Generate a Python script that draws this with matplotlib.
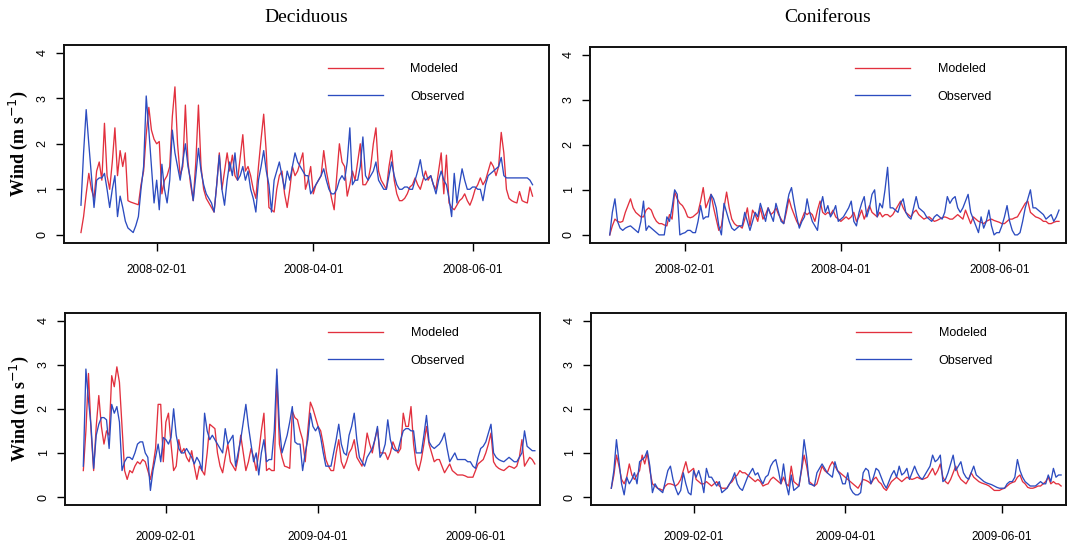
import matplotlib
matplotlib.use("Agg")
import matplotlib.pyplot as plt
import matplotlib.dates as mdates
import pandas as pd

# ---------------- data ----------------
start_2008 = "2008-01-03"
start_2009 = "2008-12-31"
tick_dates_2008 = ["2008-02-01", "2008-04-01", "2008-06-01"]
tick_dates_2009 = ["2009-02-01", "2009-04-01", "2009-06-01"]
panel_titles = ["Deciduous", "Coniferous"]
series_labels = ["Modeled", "Observed"]
y_ticks = [0, 1, 2, 3, 4]

dec08_modeled = [
    0.05, 0.4, 0.9, 1.35, 1.0, 0.8, 1.4, 1.6, 1.2, 2.45, 1.3, 1.0, 1.6, 2.35, 1.3, 1.85, 1.5, 1.8, 0.75, 0.72,
    0.7, 0.68, 0.66, 1.1, 1.4, 2.2, 2.8, 2.3, 2.1, 2.0, 2.05, 0.9, 1.2, 1.3, 1.5, 2.6, 3.25, 2.0, 1.3, 1.5,
    2.85, 1.6, 1.1, 0.75, 1.6, 2.85, 1.5, 1.0, 0.8, 0.7, 0.6, 0.5, 1.1, 1.8, 1.0, 1.4, 1.8, 1.4, 1.75, 1.3,
    1.2, 1.7, 2.2, 1.4, 1.5, 1.3, 1.0, 0.8, 1.5, 2.1, 2.65, 1.8, 0.6, 0.55, 0.5, 1.0, 1.3, 1.4, 0.9, 0.6,
    1.0, 1.5, 1.3, 1.4, 1.6, 1.8, 1.0, 1.2, 1.5, 0.9, 1.1, 1.2, 1.3, 1.85, 1.4, 1.1, 0.8, 0.55, 1.3, 2.0,
    1.6, 1.5, 0.85, 1.1, 1.4, 1.2, 1.6, 2.0, 1.1, 1.1, 1.2, 1.5, 2.0, 2.35, 1.4, 1.2, 1.1, 1.0, 1.5, 1.85,
    1.2, 0.9, 0.75, 0.75, 0.8, 0.9, 1.05, 1.1, 1.25, 1.1, 1.0, 1.2, 1.4, 1.2, 1.3, 1.1, 1.0, 1.4, 1.8, 0.9,
    1.75, 0.7, 0.6, 0.55, 0.65, 0.75, 0.8, 0.9, 0.75, 0.65, 0.8, 1.0, 1.1, 1.25, 1.1, 1.2, 1.4, 1.6, 1.5, 1.3,
    1.5, 2.25, 1.8, 1.0, 0.8, 0.75, 0.72, 0.7, 0.95, 0.75, 0.72, 0.7, 1.05, 0.85,
]
dec08_observed = [
    0.65, 1.8, 2.75, 2.0, 1.3, 0.6, 1.2, 1.25, 1.25, 1.35, 1.0, 0.6, 1.0, 1.3, 0.4, 0.85, 0.6, 0.3, 0.15, 0.1,
    0.05, 0.2, 0.4, 1.0, 1.5, 3.05, 2.3, 1.5, 0.7, 1.2, 0.55, 1.55, 1.0, 0.7, 1.2, 2.3, 1.8, 1.5, 1.2, 1.6,
    2.0, 1.5, 1.2, 0.75, 1.3, 1.9, 1.4, 1.1, 0.9, 0.8, 0.7, 0.5, 1.1, 1.75, 1.0, 0.65, 1.2, 1.6, 1.3, 1.8,
    1.2, 1.3, 1.5, 1.2, 1.4, 1.0, 0.8, 0.5, 1.2, 1.5, 1.85, 1.4, 1.1, 0.5, 1.2, 1.4, 1.6, 1.3, 1.0, 1.4,
    1.2, 1.5, 1.8, 1.6, 1.5, 1.4, 1.3, 1.3, 0.9, 1.0, 1.1, 1.2, 1.3, 1.45, 1.2, 1.0, 0.9, 0.9, 1.0, 1.2,
    1.3, 1.2, 1.6, 2.35, 1.1, 1.2, 1.2, 1.5, 2.15, 1.3, 1.2, 1.3, 1.4, 1.6, 1.2, 1.1, 1.0, 1.0, 1.3, 1.6,
    1.3, 1.1, 1.0, 1.0, 1.05, 1.05, 1.0, 1.0, 1.2, 1.4, 1.65, 1.3, 1.2, 1.25, 1.3, 1.1, 0.9, 1.2, 1.4, 1.2,
    1.1, 0.8, 0.4, 1.35, 0.7, 1.1, 1.45, 1.2, 1.0, 1.0, 1.05, 1.05, 1.0, 1.0, 0.75, 1.1, 1.3, 1.35, 1.4, 1.45,
    1.5, 1.7, 1.3, 1.25, 1.25, 1.25, 1.25, 1.25, 1.25, 1.25, 1.25, 1.25, 1.2, 1.1,
]
con08_modeled = [
    0.0, 0.2, 0.35, 0.3, 0.28, 0.3, 0.5, 0.65, 0.8, 0.6, 0.5, 0.45, 0.4, 0.4, 0.55, 0.6, 0.55, 0.4, 0.3, 0.25,
    0.25, 0.22, 0.2, 0.45, 0.35, 0.95, 0.8, 0.7, 0.65, 0.55, 0.4, 0.38, 0.4, 0.45, 0.5, 0.75, 1.05, 0.6, 0.75, 0.9,
    0.6, 0.35, 0.1, 0.2, 0.6, 0.95, 0.6, 0.35, 0.25, 0.2, 0.2, 0.15, 0.35, 0.6, 0.2, 0.55, 0.45, 0.3, 0.6, 0.35,
    0.45, 0.6, 0.45, 0.5, 0.6, 0.45, 0.35, 0.25, 0.5, 0.8, 0.6, 0.45, 0.3, 0.2, 0.35, 0.5, 0.45, 0.5, 0.45, 0.3,
    0.55, 0.75, 0.5, 0.45, 0.5, 0.45, 0.55, 0.4, 0.35, 0.3, 0.35, 0.4, 0.35, 0.4, 0.5, 0.3, 0.4, 0.55, 0.35, 0.5,
    0.65, 0.5, 0.45, 0.4, 0.5, 0.4, 0.45, 0.45, 0.4, 0.45, 0.55, 0.65, 0.75, 0.6, 0.5, 0.45, 0.4, 0.5, 0.55, 0.45,
    0.4, 0.35, 0.38, 0.4, 0.35, 0.3, 0.32, 0.35, 0.38, 0.4, 0.38, 0.35, 0.35, 0.4, 0.45, 0.4, 0.35, 0.55, 0.4, 0.25,
    0.4, 0.35, 0.3, 0.28, 0.25, 0.3, 0.33, 0.35, 0.32, 0.3, 0.28, 0.25, 0.25, 0.3, 0.35, 0.35, 0.38, 0.4, 0.5, 0.6,
    0.7, 0.75, 0.5, 0.45, 0.4, 0.38, 0.35, 0.3, 0.3, 0.25, 0.25, 0.28, 0.3, 0.3,
]
con08_observed = [
    0.0, 0.5, 0.8, 0.3, 0.15, 0.1, 0.15, 0.18, 0.2, 0.15, 0.1, 0.05, 0.3, 0.75, 0.1, 0.2, 0.15, 0.1, 0.05, 0.0,
    0.0, 0.0, 0.4, 0.3, 0.6, 1.0, 0.9, 0.0, 0.03, 0.05, 0.1, 0.1, 0.05, 0.05, 0.3, 0.65, 0.35, 0.4, 0.4, 0.9,
    0.8, 0.6, 0.2, 0.0, 0.7, 0.5, 0.3, 0.15, 0.1, 0.15, 0.2, 0.2, 0.5, 0.3, 0.1, 0.3, 0.5, 0.4, 0.7, 0.5,
    0.3, 0.6, 0.45, 0.3, 0.7, 0.5, 0.3, 0.25, 0.6, 0.9, 1.05, 0.7, 0.4, 0.15, 0.3, 0.4, 0.8, 0.5, 0.3, 0.2,
    0.1, 0.6, 0.85, 0.5, 0.65, 0.4, 0.5, 0.65, 0.3, 0.35, 0.4, 0.5, 0.6, 0.75, 0.3, 0.2, 0.5, 0.7, 0.85, 0.4,
    0.6, 0.9, 1.0, 0.4, 0.7, 0.6, 1.0, 1.5, 0.6, 0.6, 0.55, 0.5, 0.7, 0.8, 0.5, 0.4, 0.35, 0.6, 0.85, 0.6,
    0.55, 0.5, 0.4, 0.35, 0.3, 0.4, 0.45, 0.4, 0.35, 0.5, 0.85, 0.7, 0.8, 0.85, 0.6, 0.5, 0.6, 0.75, 0.9, 0.5,
    0.35, 0.2, 0.05, 0.4, 0.15, 0.3, 0.55, 0.2, 0.0, 0.05, 0.05, 0.2, 0.4, 0.65, 0.3, 0.1, 0.0, 0.0, 0.05, 0.3,
    0.6, 0.8, 1.0, 0.6, 0.6, 0.55, 0.5, 0.45, 0.35, 0.4, 0.45, 0.3, 0.4, 0.55,
]
dec09_modeled = [
    0.6, 1.5, 2.8, 1.5, 0.6, 1.6, 2.3, 1.6, 1.2, 1.5, 1.4, 2.75, 2.5, 2.95, 2.6, 1.6, 0.6, 0.4, 0.6, 0.55,
    0.7, 0.8, 0.75, 0.85, 0.8, 0.6, 0.4, 0.7, 1.1, 2.1, 2.1, 0.8, 1.7, 1.9, 1.2, 0.6, 0.7, 1.3, 1.0, 1.1,
    0.9, 0.8, 1.05, 0.7, 0.4, 0.7, 0.6, 0.5, 1.0, 1.65, 1.6, 1.55, 1.0, 0.7, 0.55, 0.9, 1.2, 0.8, 0.7, 0.6,
    0.9, 1.4, 1.0, 0.6, 0.8, 1.1, 0.9, 0.6, 1.0, 1.5, 1.9, 0.6, 0.65, 0.6, 0.6, 2.75, 1.2, 0.9, 0.7, 0.68,
    0.65, 1.95, 1.8, 1.75, 1.5, 1.3, 0.8, 1.5, 2.15, 2.0, 1.8, 1.6, 1.5, 1.2, 0.85, 0.7, 0.6, 0.6, 1.0, 1.3,
    0.8, 0.65, 0.8, 1.0, 1.1, 1.3, 0.9, 0.8, 0.7, 1.0, 1.45, 1.2, 1.0, 1.3, 1.55, 1.0, 1.0, 1.0, 0.85, 1.0,
    1.25, 1.1, 1.0, 1.1, 1.9, 1.6, 1.6, 2.05, 1.2, 0.75, 0.6, 0.85, 1.2, 1.6, 1.2, 1.0, 0.8, 0.85, 0.85, 0.7,
    0.55, 0.65, 0.75, 0.6, 0.55, 0.5, 0.5, 0.5, 0.48, 0.45, 0.45, 0.45, 0.6, 0.75, 0.8, 0.85, 1.0, 1.2, 1.45, 0.8,
    0.7, 0.65, 0.62, 0.6, 0.65, 0.7, 0.68, 0.65, 0.7, 0.9, 1.3, 0.7, 0.8, 0.9, 0.85, 0.75,
]
dec09_observed = [
    0.7, 2.9, 2.2, 1.6, 0.65, 1.4, 1.65, 1.8, 1.8, 1.75, 1.1, 2.1, 1.9, 2.05, 1.7, 0.6, 0.8, 0.9, 0.9, 0.85,
    1.0, 1.2, 1.25, 1.25, 1.0, 0.9, 0.15, 0.6, 0.9, 1.2, 0.8, 1.35, 1.3, 1.2, 1.35, 2.0, 1.4, 1.1, 1.0, 1.0,
    1.1, 1.0, 0.9, 0.75, 0.9, 0.8, 0.6, 1.9, 1.5, 1.3, 1.4, 1.3, 1.2, 1.1, 1.0, 1.55, 1.2, 1.3, 1.4, 0.7,
    1.0, 1.3, 1.7, 2.1, 1.6, 1.2, 0.8, 1.0, 0.5, 1.0, 1.3, 0.8, 0.85, 0.85, 1.5, 2.9, 1.6, 1.0, 1.2, 1.4,
    1.7, 2.05, 1.25, 1.2, 1.2, 0.6, 1.0, 1.3, 1.9, 1.6, 1.5, 1.6, 1.35, 1.0, 0.7, 0.7, 0.7, 1.0, 1.3, 1.65,
    1.2, 1.0, 0.95, 1.4, 1.6, 1.9, 1.3, 0.9, 0.8, 0.7, 0.9, 1.0, 1.1, 1.3, 1.6, 0.9, 1.0, 1.2, 1.75, 1.3,
    1.1, 1.05, 1.05, 1.3, 1.5, 1.55, 1.55, 1.5, 1.5, 1.0, 1.0, 1.0, 1.4, 1.85, 1.25, 1.15, 1.1, 1.15, 1.2, 1.3,
    1.45, 1.1, 0.8, 0.9, 1.0, 0.85, 0.85, 0.85, 0.85, 0.8, 0.8, 0.7, 0.65, 0.9, 1.1, 1.15, 1.25, 1.45, 1.65, 1.0,
    0.9, 0.85, 0.82, 0.8, 0.85, 0.9, 0.85, 0.8, 0.8, 0.9, 1.0, 1.5, 1.15, 1.1, 1.05, 1.05,
]
con09_modeled = [
    0.2, 0.5, 0.95, 0.7, 0.4, 0.3, 0.45, 0.75, 0.5, 0.4, 0.5, 0.6, 0.95, 0.75, 1.0, 0.6, 0.3, 0.25, 0.2, 0.18,
    0.15, 0.25, 0.3, 0.3, 0.28, 0.25, 0.3, 0.4, 0.6, 0.8, 0.55, 0.6, 0.65, 0.4, 0.35, 0.3, 0.3, 0.35, 0.3, 0.25,
    0.3, 0.35, 0.25, 0.2, 0.2, 0.2, 0.3, 0.35, 0.45, 0.5, 0.6, 0.55, 0.55, 0.5, 0.45, 0.4, 0.35, 0.4, 0.35, 0.25,
    0.28, 0.3, 0.4, 0.45, 0.4, 0.35, 0.3, 0.45, 0.3, 0.25, 0.7, 0.35, 0.3, 0.25, 0.6, 0.95, 0.7, 0.35, 0.3, 0.25,
    0.3, 0.5, 0.7, 0.6, 0.55, 0.7, 0.8, 0.7, 0.6, 0.55, 0.5, 0.45, 0.4, 0.35, 0.3, 0.25, 0.2, 0.3, 0.4, 0.38,
    0.35, 0.3, 0.4, 0.45, 0.35, 0.3, 0.2, 0.15, 0.25, 0.35, 0.4, 0.45, 0.4, 0.35, 0.4, 0.45, 0.42, 0.4, 0.42, 0.45,
    0.42, 0.4, 0.42, 0.45, 0.55, 0.65, 0.5, 0.6, 0.75, 0.45, 0.35, 0.3, 0.4, 0.55, 0.7, 0.5, 0.4, 0.35, 0.3, 0.4,
    0.55, 0.45, 0.4, 0.35, 0.32, 0.3, 0.28, 0.25, 0.2, 0.15, 0.15, 0.15, 0.18, 0.2, 0.25, 0.3, 0.33, 0.35, 0.45, 0.5,
    0.35, 0.3, 0.22, 0.2, 0.2, 0.22, 0.25, 0.25, 0.3, 0.35, 0.45, 0.3, 0.35, 0.3, 0.3, 0.25,
]
con09_observed = [
    0.2, 0.6, 1.3, 0.8, 0.3, 0.05, 0.45, 0.3, 0.4, 0.55, 0.3, 0.8, 0.85, 0.9, 1.05, 0.7, 0.1, 0.3, 0.2, 0.15,
    0.1, 0.35, 0.6, 0.7, 0.4, 0.2, 0.05, 0.15, 0.55, 0.3, 0.1, 0.05, 0.6, 0.45, 0.6, 0.4, 0.1, 0.65, 0.45, 0.45,
    0.35, 0.25, 0.35, 0.1, 0.15, 0.2, 0.3, 0.4, 0.55, 0.3, 0.2, 0.15, 0.3, 0.45, 0.55, 0.65, 0.5, 0.55, 0.4, 0.3,
    0.45, 0.5, 0.7, 0.8, 0.85, 0.6, 0.3, 0.75, 0.3, 0.05, 0.5, 0.15, 0.2, 0.25, 0.65, 1.3, 0.9, 0.3, 0.28, 0.25,
    0.55, 0.65, 0.75, 0.65, 0.55, 0.5, 0.45, 0.8, 0.6, 0.5, 0.3, 0.3, 0.55, 0.2, 0.1, 0.05, 0.05, 0.1, 0.55, 0.65,
    0.6, 0.3, 0.45, 0.65, 0.6, 0.45, 0.3, 0.2, 0.35, 0.5, 0.6, 0.45, 0.7, 0.5, 0.55, 0.65, 0.4, 0.55, 0.7, 0.55,
    0.45, 0.4, 0.5, 0.6, 0.7, 0.95, 0.8, 0.85, 0.95, 0.35, 0.4, 0.55, 0.75, 0.95, 0.6, 0.7, 0.8, 0.55, 0.45, 0.4,
    0.55, 0.7, 0.5, 0.45, 0.4, 0.35, 0.32, 0.3, 0.28, 0.25, 0.22, 0.2, 0.2, 0.2, 0.3, 0.35, 0.35, 0.45, 0.85, 0.6,
    0.45, 0.35, 0.3, 0.25, 0.25, 0.25, 0.3, 0.35, 0.3, 0.3, 0.5, 0.35, 0.65, 0.45, 0.5, 0.5,
]

# ---------------- style ----------------
RED = "#e2303e"
BLUE = "#2c4cc0"
W, H = 1068, 554

# axes boxes in pixels: left, top, right, bottom
boxes = [(64, 45, 549, 243), (590, 47, 1066, 243),
         (65, 313, 540, 505), (591, 313, 1066, 505)]
# x-limit padding (days before first / after last point)
xpads = [(6.5, 6.3), (7.6, 2.7), (7.1, 2.0), (7.9, 1.9)]
# legend anchors in axes fraction
legend_anchor = [(0.544, 0.909), (0.557, 0.918), (0.554, 0.927), (0.558, 0.927)]
xlabel_pad = [9, 9, 13, 13]

panels = [
    (start_2008, dec08_modeled, dec08_observed, tick_dates_2008),
    (start_2008, con08_modeled, con08_observed, tick_dates_2008),
    (start_2009, dec09_modeled, dec09_observed, tick_dates_2009),
    (start_2009, con09_modeled, con09_observed, tick_dates_2009),
]

fig = plt.figure(figsize=(W / 100, H / 100), dpi=100)
fig.patch.set_facecolor("white")

for i, ((start, mod, obs, tdates), (l, t, r, b), (pl, pr)) in enumerate(zip(panels, boxes, xpads)):
    ax = fig.add_axes([l / W, 1 - b / H, (r - l) / W, (b - t) / H])
    dates_m = pd.date_range(start, periods=len(mod), freq="D")
    dates_o = pd.date_range(start, periods=len(obs), freq="D")
    ax.plot(dates_m, mod, color=RED, lw=0.95, label=series_labels[0])
    ax.plot(dates_o, obs, color=BLUE, lw=0.95, label=series_labels[1])
    ax.set_xlim(dates_m[0] - pd.Timedelta(days=pl), dates_m[-1] + pd.Timedelta(days=pr))
    ax.set_ylim(-0.18, 4.17)
    ax.set_yticks(y_ticks)
    ax.set_yticklabels([str(v) for v in y_ticks], rotation=90, va="center",
                       fontsize=9, family="Liberation Sans")
    ax.set_xticks(pd.to_datetime(tdates))
    ax.xaxis.set_major_formatter(mdates.DateFormatter("%Y-%m-%d"))
    for lab in ax.get_xticklabels():
        lab.set_fontsize(8.5)
        lab.set_family("Liberation Sans")
    ax.tick_params(axis="both", direction="out", length=6, width=1.0, color="black")
    ax.tick_params(axis="x", pad=xlabel_pad[i])
    ax.tick_params(axis="y", pad=5)
    for sp in ax.spines.values():
        sp.set_linewidth(1.4)
        sp.set_color("#111111")
    ax.legend(loc="upper left", bbox_to_anchor=legend_anchor[i], frameon=False,
              borderpad=0, borderaxespad=0, handlelength=4.4, handletextpad=2.2,
              labelspacing=1.25, prop={"family": "Liberation Sans", "size": 9})
    if i % 2 == 0:
        ax.set_ylabel("Wind (m s$^{-1}$)", family="Liberation Serif", fontweight="bold",
                      fontsize=13, labelpad=5)
    if i < 2:
        cx = (l + r) / 2 / W
        fig.text(cx, 1 - 17 / H, panel_titles[i], ha="center", va="center",
                 family="Liberation Serif", fontsize=14)

fig.savefig("out.png", dpi=100, facecolor="white")
